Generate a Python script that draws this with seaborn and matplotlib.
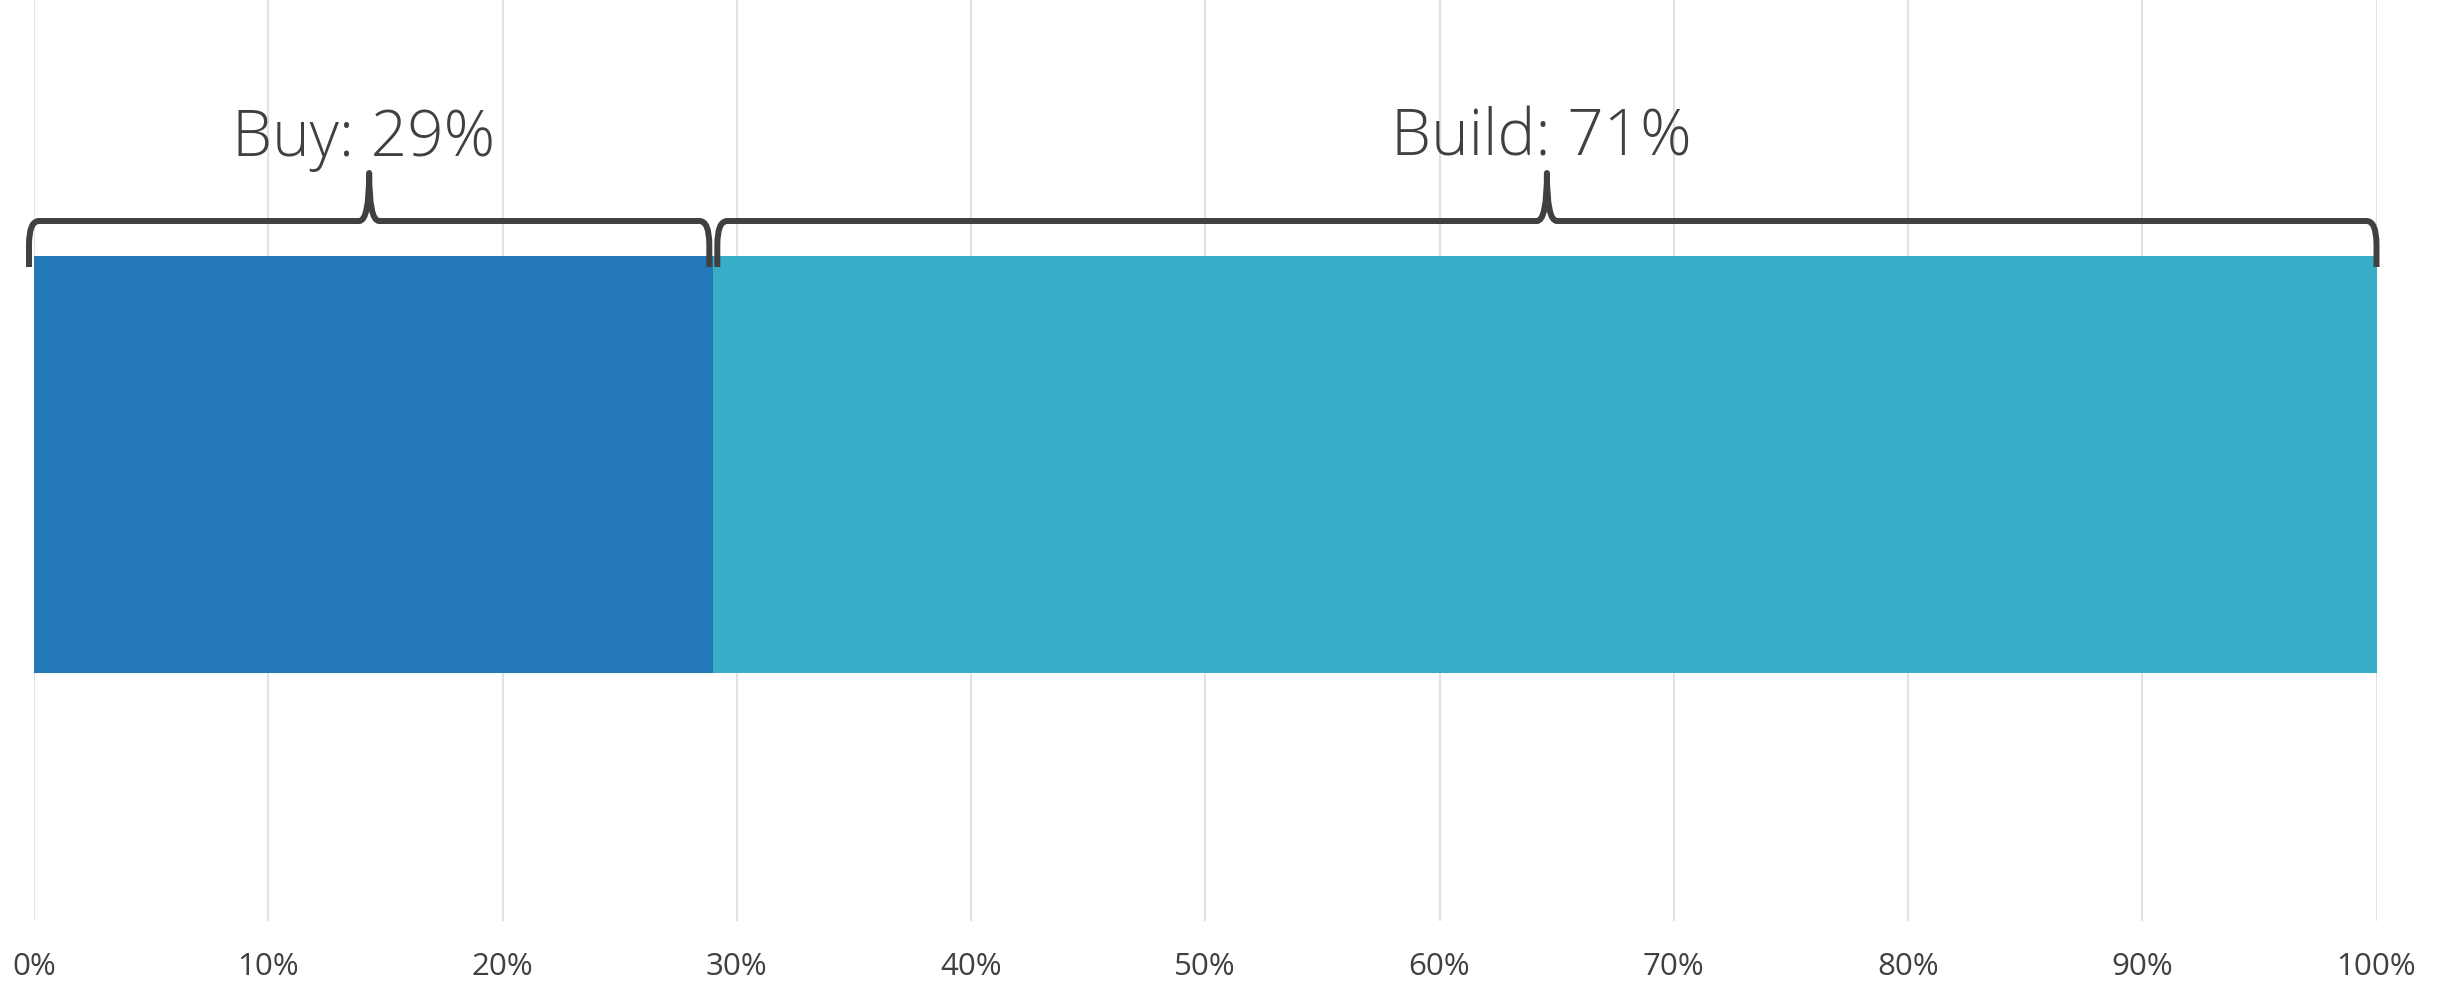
import matplotlib
matplotlib.use("Agg")
import matplotlib.pyplot as plt
from matplotlib.path import Path
from matplotlib.patches import PathPatch
import seaborn as sns
import pandas as pd

# Share of respondents choosing each approach
categories = ["Buy", "Build"]
shares = [29, 71]
ticks = [0, 10, 20, 30, 40, 50, 60, 70, 80, 90, 100]
tick_labels = [f"{t}%" for t in ticks]

buy_color = "#2378BA"
build_color = "#37ADC7"
ink = "#404040"

sns.set_theme(style="white")
plt.rcParams["font.family"] = ["Open Sans", "DejaVu Sans"]

W, H, DPI = 2447, 983, 100
fig = plt.figure(figsize=(W / DPI, H / DPI), dpi=DPI)
left_px, right_px, bottom_px = 34, 2376.5, 921
ax = fig.add_axes([left_px / W, 1 - bottom_px / H, (right_px - left_px) / W, bottom_px / H])

df = pd.DataFrame({"row": ["all"], "Buy": [shares[0]], "Total": [sum(shares)]})
# Stacked bar: full-width Build bar underneath, Buy bar drawn over it
sns.barplot(data=df, x="Total", y="row", color=build_color, width=0.8,
            saturation=1, ax=ax, zorder=2)
sns.barplot(data=df, x="Buy", y="row", color=buy_color, width=0.8,
            saturation=1, ax=ax, zorder=3)
for p in ax.patches:
    p.set_linewidth(0)

ax.set_xlim(0, 100)
ax.set_ylim(0.8758, -0.8911)
ax.set_xticks(ticks)
ax.set_xticklabels(tick_labels)
ax.set_yticks([])
ax.set_xlabel("")
ax.set_ylabel("")
ax.grid(axis="x", color="#e2e2e2", linewidth=1.5, zorder=0)
ax.set_axisbelow(True)
for s in ax.spines.values():
    s.set_visible(False)
ax.tick_params(axis="x", length=0, pad=22, labelsize=22.5, labelcolor=ink)

# pixel -> data scale factors
px_x = 100 / (right_px - left_px)
px_y = (0.8758 + 0.8911) / bottom_px
y_top = -0.8911


def ypx(p):
    return y_top + p * px_y


def brace(x0, x1):
    xm = (x0 + x1) / 2
    y_h, y_end, y_tip = ypx(221), ypx(267), ypx(173)
    rx, ry = 10 * px_x, 24 * px_y
    cx = 10 * px_x
    verts = [
        (x0, y_end), (x0, y_h + ry),
        (x0, y_h), (x0 + rx, y_h),
        (xm - cx, y_h),
        (xm, y_h), (xm, y_tip),
        (xm, y_h), (xm + cx, y_h),
        (x1 - rx, y_h),
        (x1, y_h), (x1, y_h + ry),
        (x1, y_end),
    ]
    codes = [Path.MOVETO, Path.LINETO,
             Path.CURVE3, Path.CURVE3,
             Path.LINETO,
             Path.CURVE3, Path.CURVE3,
             Path.CURVE3, Path.CURVE3,
             Path.LINETO,
             Path.CURVE3, Path.CURVE3,
             Path.LINETO]
    patch = PathPatch(Path(verts, codes), fill=False, edgecolor=ink,
                      linewidth=4.3, joinstyle="round", capstyle="butt",
                      clip_on=False, zorder=5)
    ax.add_patch(patch)
    return xm


start = 0
gap = 4 * px_x
for i, (cat, val) in enumerate(zip(categories, shares)):
    end = start + val
    x0 = start - (5 * px_x if i == 0 else -gap)
    x1 = end - (gap if end < 100 else 0)
    xm = brace(x0, x1)
    ax.text(xm - 6 * px_x, ypx(156), f"{cat}: {val}%", ha="center", va="baseline",
            fontsize=46, color=ink, fontweight="light", zorder=6)
    start = end

fig.savefig("out.png", dpi=DPI)
